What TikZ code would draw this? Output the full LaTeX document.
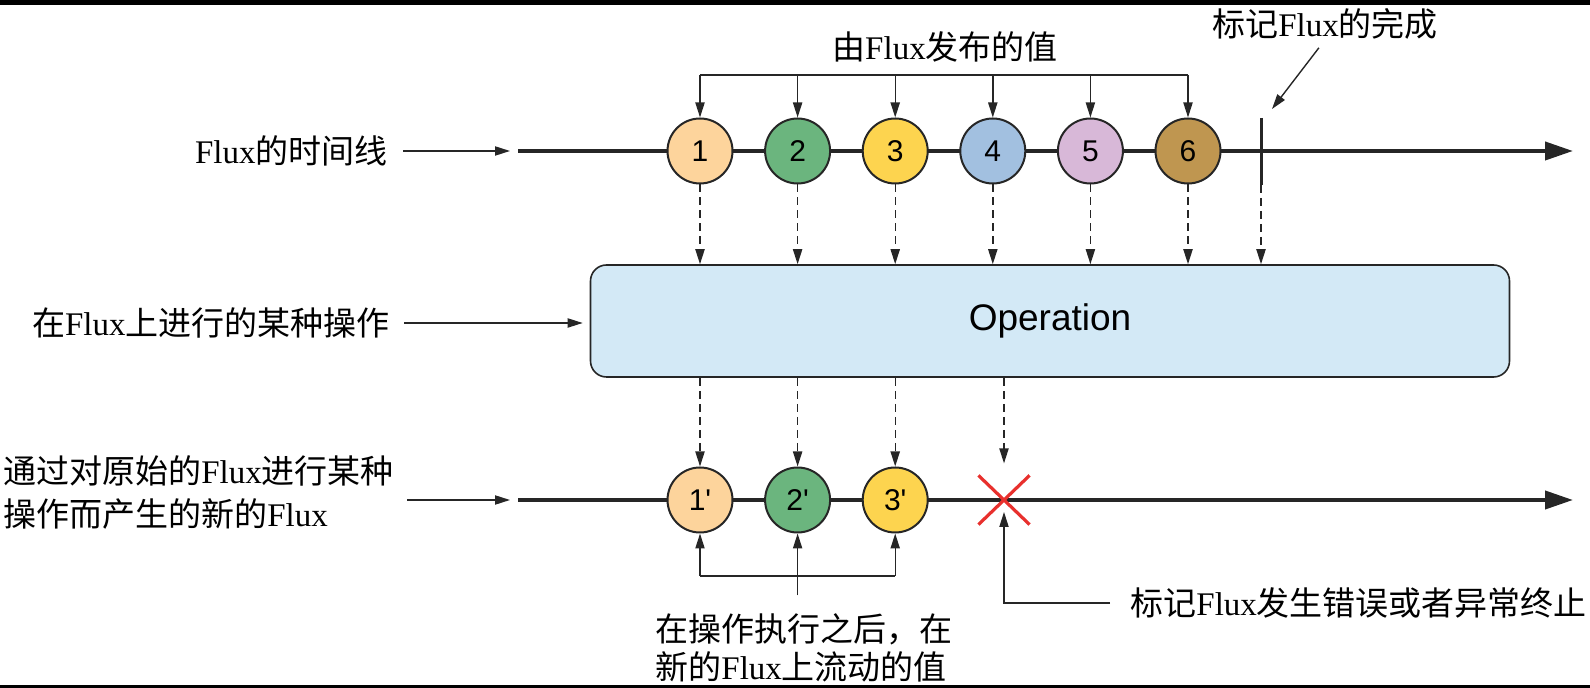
\documentclass[tikz,border=0pt]{standalone}
\usepackage{fontspec}
\setmainfont{Liberation Serif}
\setsansfont{Liberation Sans}
\newfontfamily\cjk{Noto Sans CJK SC}
\usetikzlibrary{arrows.meta,shapes.misc}
\newcommand{\zh}[1]{{\cjk #1}}
\definecolor{ballA}{HTML}{FDD49C}
\definecolor{ballB}{HTML}{6BB57E}
\definecolor{ballC}{HTML}{FDD44F}
\definecolor{ballD}{HTML}{A2C0E0}
\definecolor{ballE}{HTML}{D8B8D8}
\definecolor{ballF}{HTML}{BF9650}
\definecolor{boxblue}{HTML}{D3E9F6}
\definecolor{xred}{HTML}{E8302D}
\begin{document}
\begin{tikzpicture}[x=0.5pt,y=-0.5pt,
    lbl/.style={font=\fontsize{16.5}{19}\selectfont, inner sep=0pt},
    ball/.style={circle, draw=black!85, line width=1pt, minimum size=32.5pt,
      inner sep=0pt, font=\sffamily\fontsize{15}{15}\selectfont},
    opbox/.style={draw=black!85, line width=0.8pt, fill=boxblue, rounded corners=8pt,
      minimum width=459.5pt, minimum height=56pt, font=\sffamily\fontsize{18.5}{20}\selectfont},
    tip/.style={-{Triangle[length=7.5pt,width=4.6pt]}, line width=0.7pt, draw=black!85},
    dtip/.style={tip, dash pattern=on 4pt off 2.5pt},
    timeline/.style={line width=2pt, draw=black!85, -{Triangle[length=14pt,width=9pt]}}
  ]
  \useasboundingbox (0,0) rectangle (1590,688);
  \fill (0,0) rectangle (1590,5);
  \fill (0,685) rectangle (1590,688);
  % the two timelines
  \coordinate (s1) at (518,151);
  \coordinate (e1) at (1573,151);
  \coordinate (s2) at (518,500);
  \coordinate (e2) at (1573,500);
  \draw[timeline] (s1) -- (e1);
  \draw[timeline] (s2) -- (e2);
  % values of the flux
  \foreach \i/\c in {1/ballA,2/ballB,3/ballC,4/ballD,5/ballE,6/ballF}
    \node[ball, fill=\c] (t\i) at ({700+97.6*(\i-1)},151) {\i};
  \foreach \i/\c in {1/ballA,2/ballB,3/ballC}
    \node[ball, fill=\c] (b\i) at ({700+97.6*(\i-1)},500) {\i\textquotesingle};
  \coordinate (endtop) at (1261,118);
  \coordinate (endbot) at (1261,185);
  \draw[line width=1.5pt, draw=black!85] (endtop) -- (endbot);
  \node[cross out, draw=xred, line width=1.6pt, minimum width=24pt,
    minimum height=23pt, inner sep=0pt] (err) at (1004,500) {};
  \node[opbox] (op) at (1050,321) {Operation};
  % labels
  \node[lbl, anchor=east] (lbl1) at (388,151) {Flux\zh{的时间线}};
  \node[lbl, anchor=east] (lbl2) at (390,323) {\zh{在}Flux\zh{上进行的某种操作}};
  \node[lbl, anchor=west, align=left, font=\fontsize{16.5}{21.5}\selectfont] (lbl3) at (3,493)
    {\zh{通过对原始的}Flux\zh{进行某种}\\\zh{操作而产生的新的}Flux};
  \node[lbl] (lbl4) at (945,47) {\zh{由}Flux\zh{发布的值}};
  \node[lbl] (lbl5) at (1325,24) {\zh{标记}Flux\zh{的完成}};
  \node[lbl, anchor=west, align=left] (lbl6) at (655,648)
    {\zh{在操作执行之后，在}\\\zh{新的}Flux\zh{上流动的值}};
  \node[lbl, anchor=west] (lbl7) at (1130,603) {\zh{标记}Flux\zh{发生错误或者异常终止}};
  % arrows from the labels
  \draw[tip, shorten <=7.5pt, shorten >=4pt] (lbl1.east) -- (s1);
  \draw[tip, shorten <=7pt, shorten >=3.5pt] (lbl2.east) -- (lbl2.east -| op.west);
  \draw[tip, shorten <=6.5pt, shorten >=4pt] (lbl3.east |- s2) -- (s2);
  \coordinate (tbar) at (0,75);
  \draw[line width=0.7pt, draw=black!85] (t1 |- tbar) -- (t6 |- tbar);
  \foreach \i in {1,...,6}
    \draw[tip] (t\i |- tbar) -- (t\i.north);
  \coordinate (donetip) at (1272,109);
  \draw[tip, shorten <=5pt] (lbl5.south) -- (donetip);
  % into and out of the operation
  \foreach \i in {1,...,6}
    \draw[dtip] (t\i.south) -- (t\i |- op.north);
  \draw[dtip] (endbot) -- (endbot |- op.north);
  \foreach \i in {1,2,3}
    \draw[dtip] (b\i |- op.south) -- (b\i.north);
  \draw[dtip] (err |- op.south) -- ([yshift=6pt]err.north);
  % values of the new flux
  \coordinate (bbar) at (0,576);
  \draw[line width=0.7pt, draw=black!85] (b1 |- bbar) -- (b3 |- bbar);
  \draw[tip] (b1 |- bbar) -- (b1.south);
  \draw[tip] (b3 |- bbar) -- (b3.south);
  \draw[tip] ([yshift=9pt]lbl6.north -| b2) -- (b2.south);
  \coordinate (errtip) at (1004,512);
  \draw[tip] ([xshift=-10pt]lbl7.west) -| (errtip);
\end{tikzpicture}
\end{document}
